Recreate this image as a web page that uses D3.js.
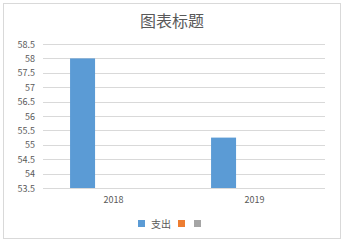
<!DOCTYPE html>
<html>
<head>
<meta charset="utf-8">
<script src="https://cdn.jsdelivr.net/npm/d3@7"></script>
<style>
  body { margin: 0; background: #fff; }
  text { font-family: "Noto Sans CJK SC", "DejaVu Sans", sans-serif; fill: #595959; }
</style>
</head>
<body>
<svg id="chart" width="345" height="244"></svg>
<script>
// data
var categories = ['2018', '2019'];
var seriesNames = ['支出', '', ''];
var spending = [58.0, 55.25];
var yTicks = [53.5, 54, 54.5, 55, 55.5, 56, 56.5, 57, 57.5, 58, 58.5];
var colors = ['#5B9BD5', '#ED7D31', '#A5A5A5'];

var svg = d3.select('#chart');

// outer frame
svg.append('rect')
	.attr('x', 3.5).attr('y', 3.5)
	.attr('width', 337).attr('height', 235)
	.attr('fill', '#fff')
	.attr('stroke', '#D9D9D9');

svg.append('text')
	.attr('x', 172).attr('y', 27)
	.attr('text-anchor', 'middle')
	.style('font-size', '16px')
	.text('图表标题');

var plotL = 43, plotR = 325, plotT = 44, plotB = 188;

var x0 = d3.scaleBand()
	.domain(categories)
	.range([plotL, plotR]);

var x1 = d3.scaleBand()
	.domain(d3.range(seriesNames.length))
	.range([0, x0.bandwidth()])
	.paddingInner(0)
	.paddingOuter(1.32)
	.align(0.41);

var y = d3.scaleLinear()
	.domain([53.5, 58.5])
	.range([plotB, plotT]);

// gridlines
svg.append('g')
	.selectAll('line')
	.data(yTicks)
	.enter()
	.append('line')
	.attr('x1', plotL).attr('x2', plotR)
	.attr('y1', d => Math.round(y(d)) + 0.5)
	.attr('y2', d => Math.round(y(d)) + 0.5)
	.attr('stroke', '#D9D9D9');

var yAxis = svg.append('g')
	.attr('transform', 'translate(' + (plotL - 8) + ',0)')
	.call(d3.axisLeft(y).tickValues(yTicks).tickSize(0).tickFormat(d3.format('')));
yAxis.select('.domain').remove();
yAxis.selectAll('text').style('font-size', '9px').attr('x', 0).attr('dy', '0.35em');

// bars (only first series has data)
svg.append('g')
	.selectAll('rect')
	.data(spending)
	.enter()
	.append('rect')
	.attr('x', (d, i) => x0(categories[i]) + x1(0))
	.attr('y', d => y(d))
	.attr('width', x1.bandwidth())
	.attr('height', d => y(53.5) - y(d))
	.attr('fill', colors[0]);

var xAxis = svg.append('g')
	.attr('transform', 'translate(0,' + plotB + ')')
	.call(d3.axisBottom(x0).tickSize(0).tickPadding(9));
xAxis.select('.domain').remove();
xAxis.selectAll('text').style('font-size', '9px');

// legend
var legendX = [138, 178, 194];
var legend = svg.append('g');
seriesNames.forEach(function(name, i) {
	legend.append('rect')
		.attr('x', legendX[i]).attr('y', 220)
		.attr('width', 7).attr('height', 7)
		.attr('fill', colors[i]);
	if (name) {
		legend.append('text')
			.attr('x', legendX[i] + 13).attr('y', 227.5)
			.style('font-size', '10px')
			.text(name);
	}
});
</script>
</body>
</html>
